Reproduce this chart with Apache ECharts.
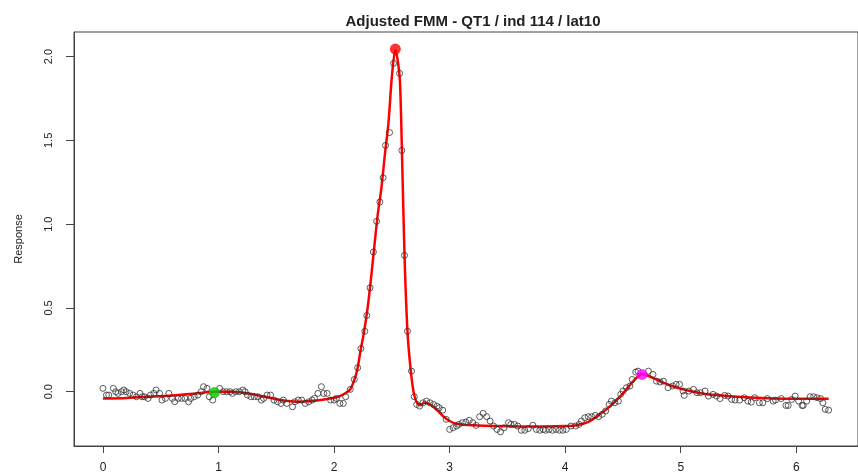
<!DOCTYPE html>
<html><head><meta charset="utf-8">
<script src="https://cdn.jsdelivr.net/npm/echarts@6/dist/echarts.min.js"></script>
<style>html,body{margin:0;padding:0;background:#fff}#c{width:858px;height:474px}</style>
</head><body><div id="c"></div>
<script>
const titleText = 'Adjusted FMM - QT1 / ind 114 / lat10';
const yAxisName = 'Response';
const xTicks = [0, 1, 2, 3, 4, 5, 6];
const yTicks = [0, 0.5, 1, 1.5, 2];

// observed points
const obsX = [0.00,0.03,0.05,0.09,0.11,0.13,0.16,0.18,0.20,0.23,0.26,0.29,0.32,0.34,0.36,0.39,0.41,0.44,0.46,0.49,
  0.51,0.54,0.57,0.60,0.62,0.65,0.68,0.71,0.74,0.76,0.79,0.82,0.85,0.87,0.90,0.92,0.95,1.01,1.04,1.07,
  1.10,1.12,1.15,1.18,1.21,1.23,1.25,1.28,1.31,1.34,1.37,1.39,1.42,1.45,1.48,1.51,1.54,1.56,1.59,1.64,
  1.66,1.69,1.72,1.75,1.78,1.81,1.83,1.86,1.89,1.91,1.94,1.97,2.00,2.02,2.05,2.08,2.10,
  2.14,2.175,2.204,2.232,2.266,2.283,2.311,2.34,2.368,2.396,2.424,2.445,2.48,2.515,2.567,2.586,2.609,2.635,2.67,2.694,
  2.715,2.74,2.77,2.80,2.83,2.86,2.89,2.91,2.94,2.97,3.00,3.03,3.06,3.08,3.11,3.14,3.17,3.20,3.23,3.26,
  3.29,3.32,3.35,3.38,3.41,3.44,3.47,3.51,3.53,3.56,3.59,3.62,3.65,3.68,3.72,3.75,3.78,3.81,3.83,3.86,
  3.89,3.92,3.95,3.98,4.01,4.05,4.09,4.12,4.14,4.17,4.20,4.23,4.26,4.29,4.32,4.35,4.38,4.40,4.43,4.46,
  4.48,4.50,4.53,4.56,4.58,4.61,4.63,4.72,4.76,4.79,4.82,4.85,4.89,4.93,4.96,4.99,5.02,5.03,5.07,5.11,
  5.14,5.17,5.21,5.24,5.28,5.31,5.34,5.38,5.41,5.44,5.47,5.51,5.55,5.58,5.61,5.64,5.68,5.71,5.75,5.80,
  5.82,5.87,5.91,5.93,5.96,5.99,6.02,6.05,6.06,6.09,6.12,6.15,6.18,6.21,6.23,6.25,6.28];
const obsY = [0.02,-0.02,-0.02,0.02,0.00,-0.01,0.00,0.01,0.00,-0.01,-0.02,-0.03,-0.01,-0.03,-0.03,-0.04,-0.02,-0.01,0.01,-0.01,
  -0.05,-0.04,-0.01,-0.04,-0.06,-0.04,-0.04,-0.04,-0.06,-0.04,-0.03,-0.02,0.00,0.03,0.02,-0.03,-0.05,0.02,0.00,0.00,
  0.00,-0.01,0.00,0.00,0.01,0.00,-0.02,-0.03,-0.03,-0.03,-0.05,-0.04,-0.02,-0.02,-0.05,-0.06,-0.07,-0.05,-0.07,-0.09,
  -0.06,-0.05,-0.05,-0.07,-0.06,-0.05,-0.04,-0.01,0.03,-0.01,-0.01,-0.05,-0.05,-0.04,-0.07,-0.07,-0.03,
  0.014,0.073,0.143,0.258,0.361,0.455,0.62,0.834,1.017,1.132,1.277,1.47,1.547,1.96,1.90,1.44,0.814,0.361,0.123,-0.03,
  -0.076,-0.086,-0.066,-0.056,-0.066,-0.076,-0.086,-0.096,-0.110,-0.165,-0.225,-0.215,-0.205,-0.195,-0.185,-0.181,-0.171,-0.185,-0.201,-0.149,
  -0.129,-0.149,-0.175,-0.205,-0.225,-0.240,-0.215,-0.185,-0.195,-0.195,-0.205,-0.230,-0.230,-0.220,-0.200,-0.225,-0.230,-0.225,-0.230,-0.225,
  -0.230,-0.225,-0.230,-0.230,-0.225,-0.205,-0.205,-0.195,-0.175,-0.155,-0.149,-0.149,-0.141,-0.149,-0.135,-0.115,-0.076,-0.056,-0.066,-0.056,
  -0.016,0.004,0.024,0.034,0.073,0.117,0.123,0.123,0.103,0.063,0.058,0.063,0.024,0.034,0.044,0.044,0.004,-0.022,0.004,0.014,
  -0.006,-0.006,0.004,-0.026,-0.016,-0.026,-0.041,-0.022,-0.026,-0.046,-0.050,-0.050,-0.036,-0.056,-0.062,-0.036,-0.066,-0.066,-0.041,-0.056,
  -0.050,-0.041,-0.082,-0.082,-0.046,-0.026,-0.056,-0.082,-0.082,-0.056,-0.030,-0.030,-0.036,-0.041,-0.066,-0.105,-0.110];

// fitted FMM curve
const fitX = [0,0.2,0.4,0.6,0.8,0.9,1.0,1.1,1.2,1.3,1.4,1.5,1.6,1.7,1.8,1.9,2.0,2.05,2.1,2.14,2.17,2.2,2.23,2.26,2.29,
  2.32,2.35,2.38,2.41,2.44,2.47,2.5,2.53,2.55,2.57,2.59,2.61,2.635,2.66,2.69,2.72,2.75,2.78,2.81,2.85,2.9,2.95,3.0,3.05,
  3.1,3.2,3.4,3.6,3.8,4.0,4.1,4.2,4.3,4.4,4.5,4.6,4.665,4.7,4.8,4.9,5.0,5.2,5.4,5.6,5.8,6.0,6.28];
const fitY = [-0.04,-0.037,-0.03,-0.022,-0.01,-0.003,0.0,0.0,-0.004,-0.015,-0.03,-0.045,-0.055,-0.06,-0.056,-0.048,-0.036,-0.026,-0.008,0.015,0.06,0.13,0.25,0.36,0.5,
  0.68,0.88,1.07,1.22,1.42,1.6,1.88,2.04,1.98,1.85,1.35,0.80,0.36,0.15,-0.01,-0.07,-0.08,-0.065,-0.07,-0.085,-0.115,-0.15,-0.175,-0.19,
  -0.195,-0.2,-0.205,-0.207,-0.207,-0.205,-0.2,-0.18,-0.135,-0.08,-0.01,0.07,0.104,0.1,0.07,0.04,0.018,-0.012,-0.025,-0.034,-0.04,-0.042,-0.042];

// highlighted wave peaks
const peakX = [0.965, 2.53, 4.665];
const peakY = [-0.005, 2.045, 0.103];
const peakColors = ['#00c800', '#ff0000', '#ff00ff'];

const font = 'Liberation Sans, Arial, sans-serif';
const chart = echarts.init(document.getElementById('c'));
chart.setOption({
  animation: false,
  backgroundColor: '#ffffff',
  title: {
    text: titleText, left: 468, top: 9, textAlign: 'center',
    textStyle: {fontFamily: font, fontSize: 15, fontWeight: 'bold', color: '#222'}
  },
  grid: {left: 74, top: 32, bottom: 27, right: -12, show: true, borderColor: '#444', borderWidth: 1, backgroundColor: 'transparent'},
  xAxis: {
    type: 'value', min: -0.251, max: 6.534,
    axisLine: {show: true, onZero: false, lineStyle: {color: '#444'}},
    splitLine: {show: false},
    axisTick: {show: true, length: 7, customValues: xTicks, lineStyle: {color: '#444'}},
    axisLabel: {customValues: xTicks, margin: 16, fontFamily: font, fontSize: 12, color: '#222', formatter: v => String(v)}
  },
  yAxis: {
    type: 'value', min: -0.324, max: 2.147,
    name: yAxisName, nameLocation: 'middle', nameGap: 50, nameRotate: 90,
    nameTextStyle: {fontFamily: font, fontSize: 11, color: '#222'},
    axisLine: {show: true, onZero: false, lineStyle: {color: '#444'}},
    splitLine: {show: false},
    axisTick: {show: true, length: 8, customValues: yTicks, lineStyle: {color: '#444'}},
    axisLabel: {customValues: yTicks, rotate: 90, margin: 20, fontFamily: font, fontSize: 11, color: '#222', formatter: v => v.toFixed(1)}
  },
  series: [
    {
      type: 'line', data: fitX.map((x, i) => [x, fitY[i]]), showSymbol: false, smooth: 0.3,
      lineStyle: {color: '#ff0000', width: 2.5}, z: 2
    },
    {
      type: 'scatter', data: obsX.map((x, i) => [x, obsY[i]]), symbol: 'circle', symbolSize: 6,
      itemStyle: {color: 'rgba(0,0,0,0)', borderColor: '#333', borderWidth: 1}, z: 3
    },
    {
      type: 'scatter', data: peakX.map((x, i) => ({value: [x, peakY[i]], itemStyle: {color: peakColors[i]}})),
      symbol: 'circle', symbolSize: 11, z: 4
    }
  ]
});
</script>
</body></html>
